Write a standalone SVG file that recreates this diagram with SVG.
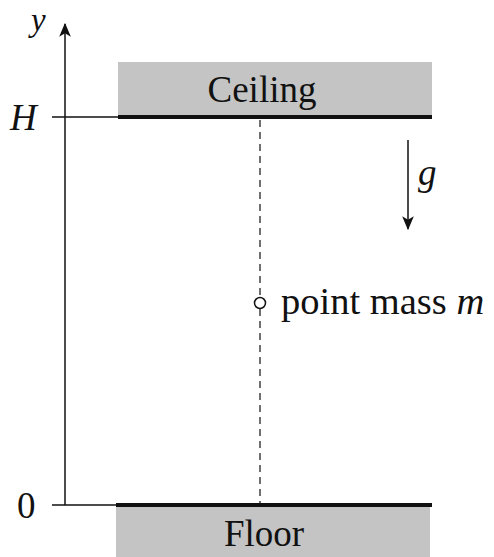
<svg xmlns="http://www.w3.org/2000/svg" width="494" height="557" viewBox="0 0 494 557">
<style>
text{font-family:"Liberation Serif",serif;font-size:37px;fill:#111}
.i{font-style:italic}
.ax{stroke:#111;stroke-width:1.5;fill:none}
.slab{fill:#c4c4c4}
.surf{stroke:#111;stroke-width:4}
</style>
<defs>
<marker id="ah2" viewBox="0 0 12 12" refX="11" refY="6" markerWidth="14" markerHeight="14" markerUnits="userSpaceOnUse" orient="auto">
<path d="M0,1 L12,6 L0,11 L3,6 Z" fill="#111"/>
</marker>
</defs>
<g id="ceiling">
<rect class="slab" x="118" y="62" width="314" height="55"/>
<line class="surf" x1="118" y1="117" x2="432" y2="117"/>
<text x="262" y="102" text-anchor="middle">Ceiling</text>
</g>
<g id="floor">
<rect class="slab" x="116" y="505" width="314" height="52"/>
<line class="surf" x1="116" y1="505" x2="432" y2="505"/>
<text x="264" y="546" text-anchor="middle">Floor</text>
</g>
<g id="axis">
<line class="ax" x1="65" y1="505" x2="65" y2="24" marker-end="url(#ah2)"/>
<line class="ax" x1="52" y1="117" x2="118" y2="117"/>
<line class="ax" x1="52" y1="505" x2="116" y2="505"/>
<text class="i" x="31" y="31" style="font-size:33px">y</text>
<text class="i" x="10" y="130">H</text>
<text x="17" y="518">0</text>
</g>
<g id="mass">
<circle cx="260" cy="303" r="5.5" fill="#fff" stroke="#111" stroke-width="1.5"/>
<text x="281" y="314" style="font-size:38.5px">point mass <tspan class="i">m</tspan></text>
</g>
<g id="gravity">
<text class="i" x="418" y="185">g</text>
</g>
<g id="connectors">
<line x1="260" y1="120" x2="260" y2="297" stroke="#111" stroke-width="1.2" stroke-dasharray="7,5"/>
<line x1="260" y1="309" x2="260" y2="503" stroke="#111" stroke-width="1.2" stroke-dasharray="7,5"/>
<line class="ax" x1="408" y1="140" x2="408" y2="229" marker-end="url(#ah2)"/>
</g>
</svg>
